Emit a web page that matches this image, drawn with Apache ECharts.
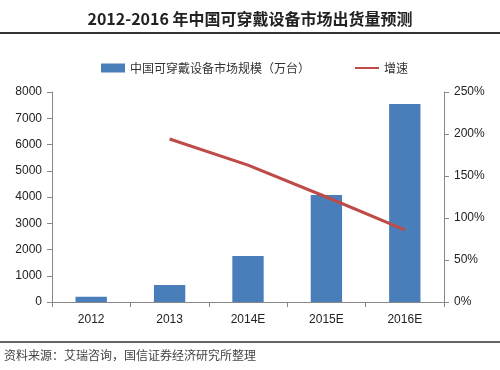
<!DOCTYPE html>
<html><head><meta charset="utf-8">
<script src="https://cdn.jsdelivr.net/npm/echarts@6/dist/echarts.min.js"></script>
<style>html,body{margin:0;padding:0;background:#fff}#c{width:500px;height:370px}</style>
</head><body><div id="c"></div>
<script>
const categories = ['2012','2013','2014E','2015E','2016E'];
const marketSize = [200, 650, 1750, 4080, 7540];
const growth = [null, 194, 163, 125, 86];
const leftTicks = [0,1000,2000,3000,4000,5000,6000,7000,8000];
const rightTicks = [0,50,100,150,200,250];

const chart = echarts.init(document.getElementById('c'));
const font = '"Noto Sans CJK SC", sans-serif';
chart.setOption({
  animation:false,
  backgroundColor:'#fff',
  title:{text:'2012-2016 年中国可穿戴设备市场出货量预测',left:'center',top:6,
    textStyle:{fontFamily:font,fontSize:16,fontWeight:'bold',color:'#222'}},
  graphic:[
    {type:'line',shape:{x1:0,y1:33,x2:500,y2:33},style:{stroke:'#333',lineWidth:2}},
    {type:'line',shape:{x1:0,y1:342,x2:500,y2:342},style:{stroke:'#333',lineWidth:1.5}},
    {type:'text',left:4,top:349,style:{text:'资料来源：艾瑞咨询，国信证券经济研究所整理',fontFamily:font,fontSize:12,fill:'#444'}}
  ],
  legend:{top:57,left:96,itemGap:44,itemWidth:24,itemHeight:9,
    textStyle:{fontFamily:font,fontSize:12,color:'#333'},
    data:[{name:'中国可穿戴设备市场规模（万台）',icon:'rect'},
          {name:'增速',itemStyle:{opacity:0,borderWidth:0}}]},
  grid:{left:52,right:56,top:92,bottom:68},
  xAxis:{type:'category',data:categories,
    axisLine:{lineStyle:{color:'#888'}},
    axisTick:{show:true,alignWithLabel:false,length:5,lineStyle:{color:'#888'}},
    axisLabel:{fontFamily:'"Liberation Sans", sans-serif',fontSize:12,color:'#222',margin:12}},
  yAxis:[
    {type:'value',min:0,max:8000,interval:1000,
     axisLine:{show:true,lineStyle:{color:'#888'}},
     axisTick:{show:true,length:5,inside:false,lineStyle:{color:'#888'}},
     splitLine:{show:false},
     axisLabel:{fontFamily:'"Liberation Sans", sans-serif',fontSize:12,color:'#222',margin:10,
       formatter:v=>leftTicks.includes(v)?String(v):''}},
    {type:'value',min:0,max:250,interval:50,
     axisLine:{show:true,lineStyle:{color:'#888'}},
     axisTick:{show:true,length:5,lineStyle:{color:'#888'}},
     splitLine:{show:false},
     axisLabel:{fontFamily:'"Liberation Sans", sans-serif',fontSize:12,color:'#222',margin:10,
       formatter:v=>rightTicks.includes(v)?v+'%':''}}
  ],
  series:[
    {name:'中国可穿戴设备市场规模（万台）',type:'bar',data:marketSize,barWidth:'40%',
     itemStyle:{color:'#4a7ebb'}},
    {name:'增速',type:'line',yAxisIndex:1,data:growth,showSymbol:false,symbol:'none',
     lineStyle:{color:'#be4b48',width:3},itemStyle:{color:'#be4b48'}}
  ]
});
</script></body></html>
